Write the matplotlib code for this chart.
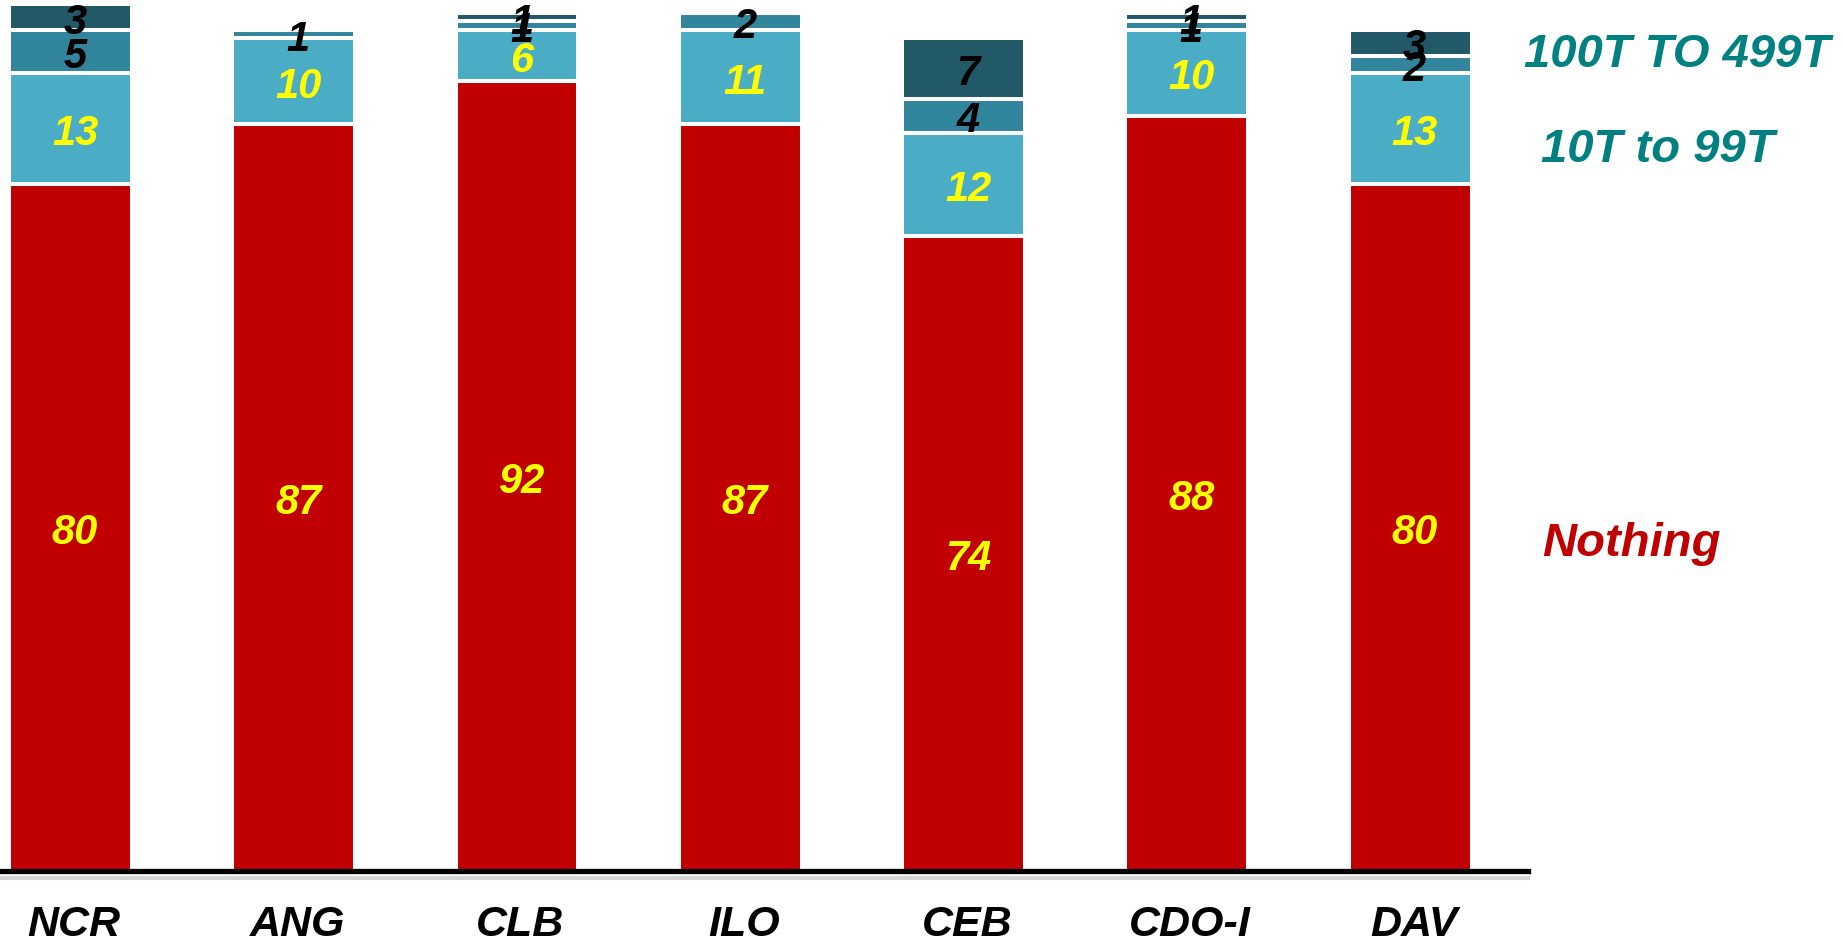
import matplotlib
matplotlib.use("Agg")
import matplotlib.pyplot as plt
from matplotlib.lines import Line2D
import numpy as np

categories = ["NCR", "ANG", "CLB", "ILO", "CEB", "CDO-I", "DAV"]
nothing = [80, 87, 92, 87, 74, 88, 80]
t10_99 = [13, 10, 6, 11, 12, 10, 13]
t100_499 = [5, 1, 1, 2, 4, 1, 2]
t500_up = [3, 0, 1, 0, 7, 1, 3]

series = [nothing, t10_99, t100_499, t500_up]
colors = ["#C00000", "#4BACC6", "#31859C", "#215968"]
label_colors = ["#FFFF00", "#FFFF00", "#000000", "#000000"]

plt.rcParams['font.family'] = ['Liberation Sans', 'DejaVu Sans']

fig = plt.figure(figsize=(18.43, 9.45), dpi=100)
ax = fig.add_axes([0, (945 - 872) / 945, 1528 / 1843, 872 / 945])

x = np.arange(len(categories))
bottom = np.zeros(len(categories))
for vals, col, lc in zip(series, colors, label_colors):
    vals = np.array(vals, dtype=float)
    ax.bar(x, vals, width=0.55, bottom=bottom, color=col, edgecolor="white",
           linewidth=2.9, zorder=2)
    for xi, b, v in zip(x, bottom, vals):
        if v > 0:
            ax.text(xi + 0.02, b + v / 2, f"{int(v)}", ha="center", va="center_baseline",
                    fontsize=30, fontweight="bold", fontstyle="italic", color=lc, zorder=3)
    bottom += vals

ax.set_xlim(-0.316, 6.528)
ax.set_ylim(0, 101.6)
ax.set_yticks([])
ax.set_xticks(x + 0.015)
ax.set_xticklabels(categories, fontsize=31, fontweight="bold", fontstyle="italic")
ax.tick_params(axis="x", length=0, pad=24)
for s in ["top", "right", "left"]:
    ax.spines[s].set_visible(False)
ax.spines["bottom"].set_linewidth(3.8)
ax.spines["bottom"].set_zorder(4)
ax.spines["bottom"].set_bounds(-0.316, 6.528)

# subtle shadow under the axis line
y_sh = 1 - 879 / 945
fig.add_artist(Line2D([0, 1528 / 1843], [y_sh, y_sh], color="#B8B8B8", lw=3, alpha=0.6, zorder=1))

fig.text(1524 / 1843, 1 - 67 / 945, "100T TO 499T", ha="left", va="baseline",
         fontsize=34, fontweight="bold", fontstyle="italic", color="#008080")
fig.text(1541 / 1843, 1 - 162 / 945, "10T to 99T", ha="left", va="baseline",
         fontsize=34, fontweight="bold", fontstyle="italic", color="#008080")
fig.text(1542 / 1843, 1 - 556 / 945, "Nothing", ha="left", va="baseline",
         fontsize=34, fontweight="bold", fontstyle="italic", color="#C00000")

fig.savefig("out.png", dpi=100)
